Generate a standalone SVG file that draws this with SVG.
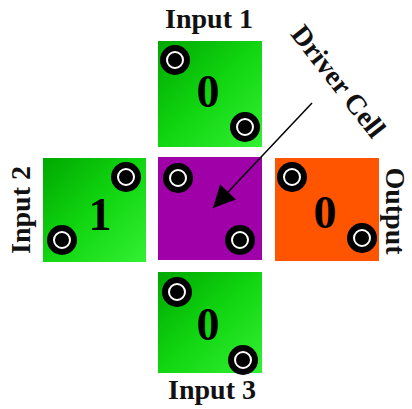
<svg xmlns="http://www.w3.org/2000/svg" width="412" height="409" viewBox="0 0 412 409">
  <defs>
    <linearGradient id="greenFill" x1="0" y1="0" x2="1" y2="1">
      <stop offset="0" stop-color="#00a800"/>
      <stop offset="0.5" stop-color="#11d611"/>
      <stop offset="1" stop-color="#33f033"/>
    </linearGradient>
    <marker id="arrowHead" viewBox="0 0 10 10" refX="10" refY="5" markerUnits="userSpaceOnUse" markerWidth="24" markerHeight="22" orient="auto">
      <path d="M0,0 L10,5 L0,10 z" fill="#000"/>
    </marker>
    <!-- contact pad: black disc with a thin white ring -->
    <g id="pad">
      <circle r="15" fill="#000"/>
      <circle r="8" fill="none" stroke="#fff" stroke-width="2"/>
    </g>
  </defs>
  <style>
    .label { font-family: "Liberation Serif", "Times New Roman", serif; font-weight: bold; font-size: 28px; fill: #111; }
    .digit { font-family: "Liberation Serif", "Times New Roman", serif; font-weight: bold; font-size: 46px; fill: #000; text-anchor: middle; }
    .green { fill: url(#greenFill); }
    .purple { fill: #a000a8; }
    .orange { fill: #ff5500; }
    .conn { stroke: #000; stroke-width: 1.5; fill: none; }
  </style>

  <rect width="412" height="409" fill="#fff"/>

  <!-- Input 1 (top) -->
  <g id="input1">
    <rect class="green" x="158" y="41" width="104" height="106"/>
    <use href="#pad" x="175" y="60"/>
    <use href="#pad" x="245" y="127"/>
    <text class="digit" x="208" y="107">0</text>
  </g>

  <!-- Input 2 (left) -->
  <g id="input2">
    <rect class="green" x="43" y="158" width="103" height="104"/>
    <use href="#pad" x="126" y="177"/>
    <use href="#pad" x="62" y="240"/>
    <text class="digit" x="100" y="230">1</text>
  </g>

  <!-- Driver cell (centre) -->
  <g id="driver">
    <rect class="purple" x="158" y="157" width="104" height="103"/>
    <use href="#pad" x="178" y="178"/>
    <use href="#pad" x="240" y="240"/>
  </g>

  <!-- Output (right) -->
  <g id="output">
    <rect class="orange" x="275" y="158" width="104" height="103"/>
    <use href="#pad" x="292" y="177"/>
    <use href="#pad" x="362" y="238"/>
    <text class="digit" x="325" y="228">0</text>
  </g>

  <!-- Input 3 (bottom) -->
  <g id="input3">
    <rect class="green" x="158" y="272" width="104" height="101"/>
    <use href="#pad" x="177" y="292"/>
    <use href="#pad" x="243" y="360"/>
    <text class="digit" x="208" y="340">0</text>
  </g>

  <!-- labels -->
  <g id="labels">
    <text class="label" x="209" y="28" text-anchor="middle">Input 1</text>
    <text class="label" x="212" y="399" text-anchor="middle">Input 3</text>
    <text class="label" text-anchor="middle" transform="translate(30,210) rotate(-90)">Input 2</text>
    <text class="label" text-anchor="middle" transform="translate(386,211) rotate(90)">Output</text>
    <text class="label" text-anchor="middle" transform="translate(331,87) rotate(52)">Driver Cell</text>
  </g>

  <!-- connectors -->
  <g id="connectors">
    <line class="conn" x1="312" y1="103" x2="213" y2="208" marker-end="url(#arrowHead)"/>
  </g>
</svg>
